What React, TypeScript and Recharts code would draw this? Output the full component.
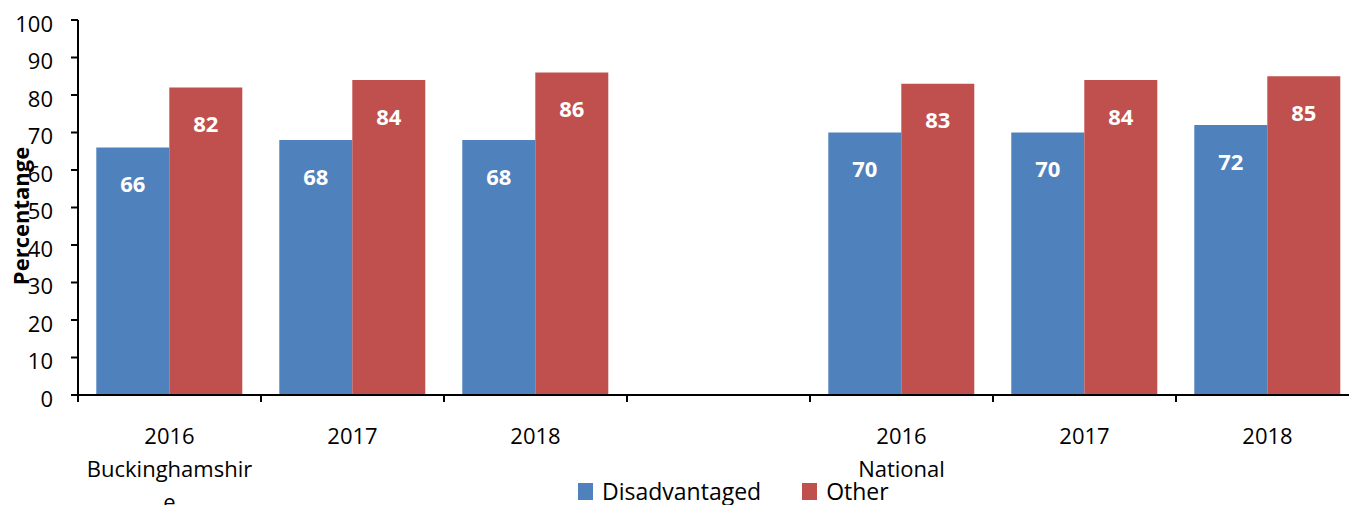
import { BarChart, Bar, XAxis, YAxis, Legend, LabelList, Label } from 'recharts';

const years = ['2016', '2017', '2018', '', '2016', '2017', '2018'];
const groups = ['Buckinghamshire', '', '', '', 'National', '', ''];
const disadvantaged = [66, 68, 68, null, 70, 70, 72];
const other = [82, 84, 86, null, 83, 84, 85];
const yTicks = [0, 10, 20, 30, 40, 50, 60, 70, 80, 90, 100];

const BLUE = '#4F81BD';
const RED = '#C0504D';
const FONT = '"Open Sans", sans-serif';
const BAND = 183;

const chartData = years.map((year, i) => ({
  year,
  group: groups[i],
  disadvantaged: disadvantaged[i],
  other: other[i],
}));

// wrap like excel does, mid-word when the label is wider than the band
function wrapLabel(text: string, maxChars: number) {
  const lines: string[] = [];
  for (let i = 0; i < text.length; i += maxChars) lines.push(text.slice(i, i + maxChars));
  return lines;
}

function CategoryTick(props: any) {
  const { x, y, payload, index } = props;
  const group = groups[index] || '';
  const left = x - BAND / 2;
  return (
    <g>
      <line x1={left} y1={y} x2={left} y2={y + 7} stroke="#000" strokeWidth={2} />
      <text x={x} y={y + 49} textAnchor="middle" fontSize={22} fill="#000" fontFamily={FONT}>
        {payload.value}
      </text>
      {group && (
        <text textAnchor="middle" fontSize={22} fill="#000" fontFamily={FONT}>
          {wrapLabel(group, 14).map((line, k) => (
            <tspan key={k} x={x} y={y + 82 + k * 33}>
              {line}
            </tspan>
          ))}
        </text>
      )}
    </g>
  );
}

function LegendContent() {
  const items = [
    { name: 'Disadvantaged', color: BLUE },
    { name: 'Other', color: RED },
  ];
  return (
    <div style={{ display: 'flex', height: 30, alignItems: 'center', fontFamily: FONT, fontSize: 23, lineHeight: '26px' }}>
      {items.map((it) => (
        <div key={it.name} style={{ display: 'flex', alignItems: 'center', marginRight: 41 }}>
          <span style={{ width: 15, height: 17, background: it.color, display: 'inline-block', marginRight: 9 }} />
          <span style={{ color: '#000' }}>{it.name}</span>
        </div>
      ))}
    </div>
  );
}

export default function App() {
  return (
    <div style={{ position: 'fixed', left: 0, top: 0, width: 1349, height: 505, overflow: 'hidden', background: '#fff' }}>
      <BarChart
        width={1359}
        height={505}
        data={chartData}
        margin={{ top: 20, right: 0, left: 0, bottom: 0 }}
        barCategoryGap="10%"
        barGap={0}
        style={{ fontFamily: FONT }}
      >
        <YAxis
          domain={[0, 100]}
          ticks={yTicks}
          interval={0}
          width={78}
          tickSize={7}
          tickMargin={18}
          axisLine={{ stroke: '#000', strokeWidth: 2 }}
          tickLine={{ stroke: '#000', strokeWidth: 2 }}
          tick={{ fill: '#000', fontSize: 22, dy: 4 }}
        >
          <Label
            content={() => (
              <text
                x={29}
                y={216}
                transform="rotate(-90 29 216)"
                textAnchor="middle"
                fontSize={22}
                fontWeight="bold"
                fill="#000"
                fontFamily={FONT}
              >
                Percentange
              </text>
            )}
          />
        </YAxis>
        <XAxis
          dataKey="year"
          interval={0}
          height={80}
          tickSize={0}
          tickMargin={0}
          tickLine={false}
          axisLine={{ stroke: '#000', strokeWidth: 2 }}
          tick={<CategoryTick />}
        />
        <Legend
          verticalAlign="bottom"
          content={<LegendContent />}
          wrapperStyle={{ left: 578, top: 476, bottom: 'auto', right: 'auto', width: 400 }}
        />
        <Bar dataKey="disadvantaged" name="Disadvantaged" fill={BLUE} isAnimationActive={false}>
          <LabelList dataKey="disadvantaged" position="insideTop" offset={29} fill="#fff" fontSize={22} fontWeight="bold" />
        </Bar>
        <Bar dataKey="other" name="Other" fill={RED} isAnimationActive={false}>
          <LabelList dataKey="other" position="insideTop" offset={29} fill="#fff" fontSize={22} fontWeight="bold" />
        </Bar>
      </BarChart>
    </div>
  );
}
